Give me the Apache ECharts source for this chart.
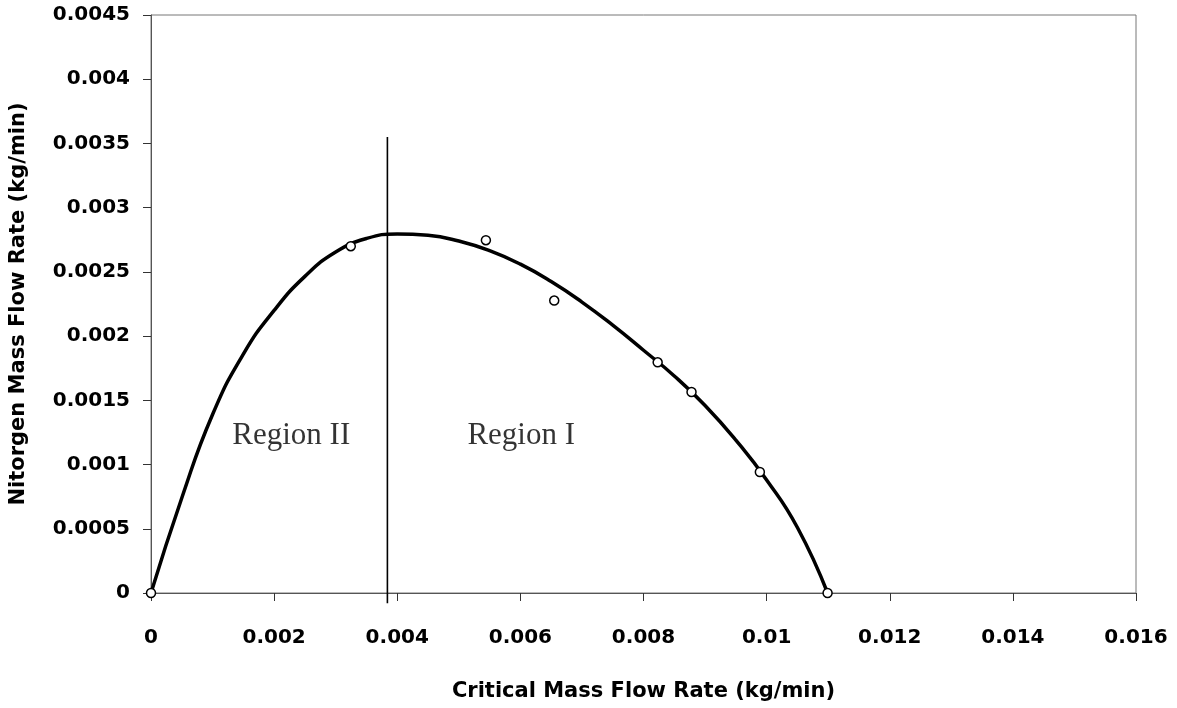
<!DOCTYPE html>
<html>
<head>
<meta charset="utf-8">
<script src="https://cdn.jsdelivr.net/npm/echarts@6/dist/echarts.min.js"></script>
<style>html,body{margin:0;padding:0;background:#fff;}#chart{width:1177px;height:708px;}</style>
</head>
<body>
<div id="chart"></div>
<script>
// Measured data points (critical mass flow rate, nitrogen mass flow rate), kg/min
const measuredX = [0, 0.003245, 0.00544, 0.00655, 0.00823, 0.00878, 0.00989, 0.01099];
const measuredY = [0, 0.00270, 0.002747, 0.002277, 0.001796, 0.001565, 0.000942, 0];

// Fitted curve
const curveX = [0, 0.0005, 0.001, 0.0015, 0.002, 0.0025, 0.003, 0.0035, 0.004, 0.0045, 0.005, 0.0055, 0.006, 0.0065, 0.007, 0.0075, 0.008, 0.0085, 0.009, 0.0095, 0.010, 0.0105, 0.01099];
const curveY = [0, 0.00074, 0.00139, 0.00186, 0.00220, 0.002465, 0.002655, 0.00276, 0.002795, 0.002785, 0.00274, 0.002665, 0.00256, 0.002425, 0.002265, 0.002085, 0.00189, 0.00169, 0.00146, 0.00119, 0.00088, 0.00051, 0];

// Region divider line
const dividerX = [0.00384, 0.00384];
const dividerY = [-0.00008, 0.00355];

// Region labels
const regionNames = ['Region II', 'Region I'];
const regionX = [0.00132, 0.00514];
const regionY = [0.00122, 0.00122];

// Axis tick labels
const xTickLabels = ['0', '0.002', '0.004', '0.006', '0.008', '0.01', '0.012', '0.014', '0.016'];
const yTickLabels = ['0', '0.0005', '0.001', '0.0015', '0.002', '0.0025', '0.003', '0.0035', '0.004', '0.0045'];

const xTitle = 'Critical Mass Flow Rate (kg/min)';
const yTitle = 'Nitorgen Mass Flow Rate (kg/min)';

const zip = (a, b) => a.map((v, i) => [v, b[i]]);

const chart = echarts.init(document.getElementById('chart'), null, {renderer: 'canvas'});
const axisFont = {fontFamily: 'DejaVu Sans', fontWeight: 'bold', color: '#000'};

chart.setOption({
  animation: false,
  backgroundColor: '#fff',
  grid: {left: 151, right: 41, top: 15, bottom: 115, show: true, borderColor: '#777', borderWidth: 1},
  xAxis: {
    type: 'value', min: 0, max: 0.016, interval: 0.002,
    name: xTitle, nameLocation: 'middle', nameGap: 88,
    nameTextStyle: Object.assign({fontSize: 21}, axisFont),
    axisLine: {show: true, onZero: false, lineStyle: {color: '#555', width: 1}},
    axisTick: {show: true, inside: false, length: 8, lineStyle: {color: '#333'}},
    splitLine: {show: false},
    axisLabel: Object.assign({fontSize: 20, margin: 35, formatter: v => xTickLabels[Math.round(v / 0.002)]}, axisFont)
  },
  yAxis: {
    type: 'value', min: 0, max: 0.0045, interval: 0.0005,
    name: yTitle, nameLocation: 'middle', nameGap: 122, nameRotate: 90,
    nameTextStyle: Object.assign({fontSize: 21}, axisFont),
    axisLine: {show: true, onZero: false, lineStyle: {color: '#555', width: 1}},
    axisTick: {show: true, inside: false, length: 8, lineStyle: {color: '#333'}},
    splitLine: {show: false},
    axisLabel: Object.assign({fontSize: 20, margin: 21, formatter: v => yTickLabels[Math.round(v / 0.0005)]}, axisFont)
  },
  series: [
    {
      type: 'line', data: zip(curveX, curveY), smooth: 0.5, showSymbol: false, symbol: 'none',
      lineStyle: {color: '#000', width: 3.5}, z: 3
    },
    {
      type: 'line', data: zip(dividerX, dividerY), showSymbol: false, symbol: 'none', clip: false,
      lineStyle: {color: '#000', width: 1.6}, z: 2
    },
    {
      type: 'scatter', data: zip(measuredX, measuredY), symbol: 'circle', symbolSize: 9, clip: false,
      itemStyle: {color: '#fff', opacity: 1, borderColor: '#000', borderWidth: 1.5}, z: 4
    },
    {
      type: 'scatter', data: regionNames.map((n, i) => ({name: n, value: [regionX[i], regionY[i]]})),
      symbolSize: 0, silent: true, itemStyle: {color: 'rgba(0,0,0,0)'},
      label: {show: true, position: 'right', distance: 0, formatter: p => p.name,
        fontFamily: 'Liberation Serif', fontSize: 31, color: '#000', textBorderWidth: 0}
    }
  ]
});
</script>
</body>
</html>
